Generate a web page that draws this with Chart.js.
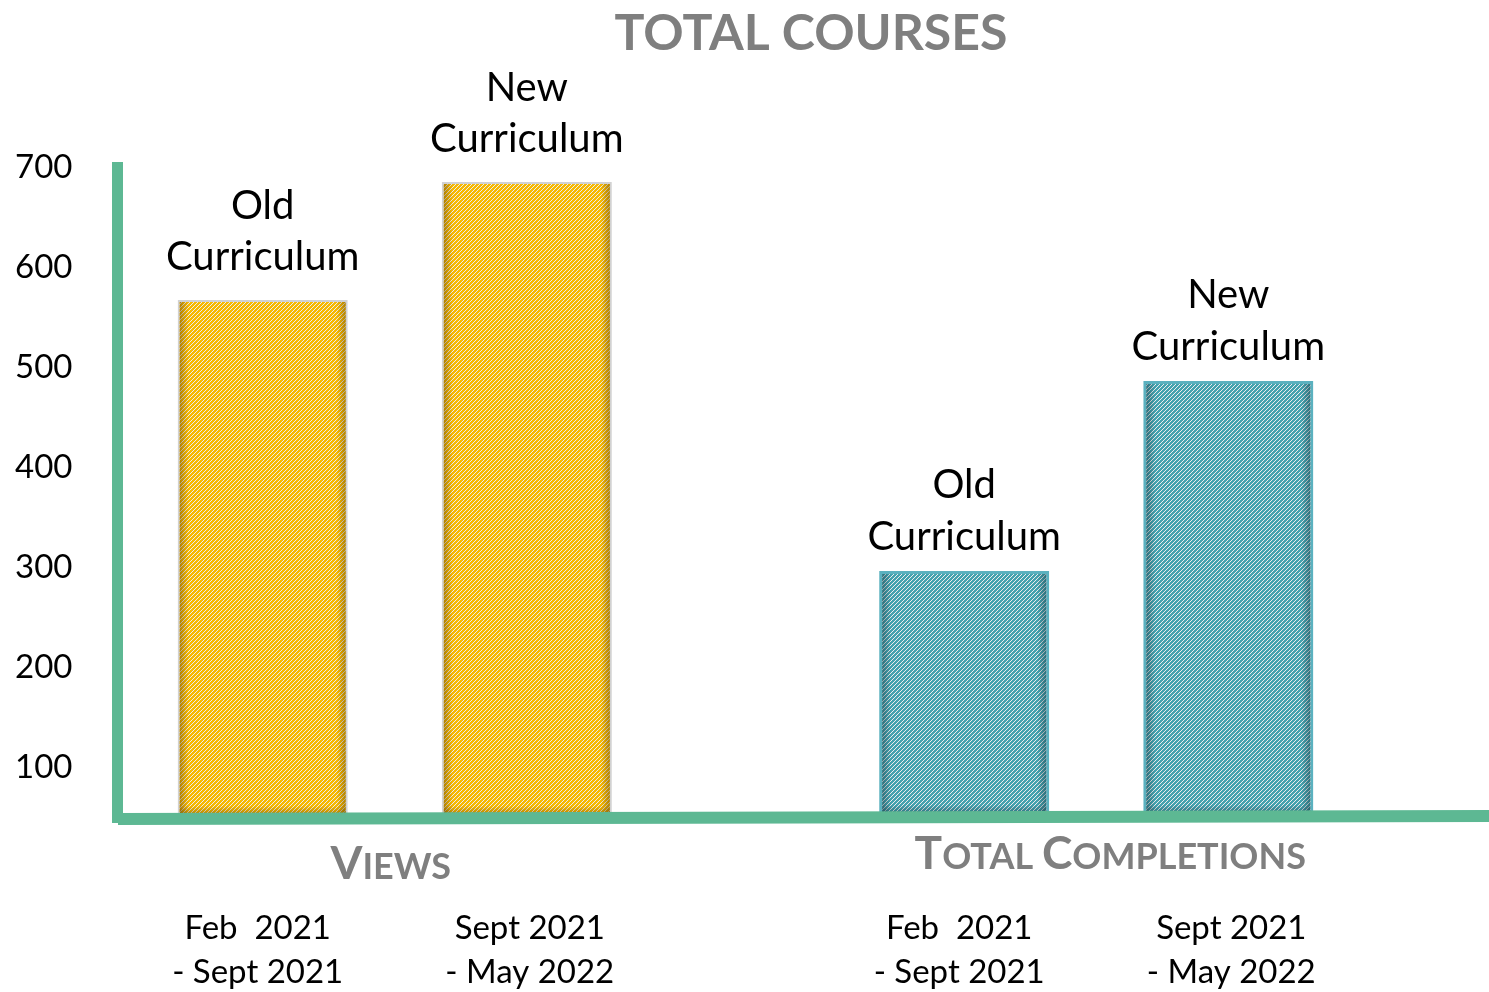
<!DOCTYPE html>
<html>
<head>
<meta charset="utf-8">
<script src="https://cdn.jsdelivr.net/npm/chart.js@4"></script>
<style>
  html, body { margin: 0; padding: 0; background: #fff; }
  #wrap { width: 1489px; height: 992px; }
</style>
</head>
<body>
<div id="wrap"><canvas id="chart"></canvas></div>
<script>
// data
const groups = ['Views', 'Total Completions'];
const curricula = [['Old', 'Curriculum'], ['New', 'Curriculum']];
const periods = [['Feb  2021', '- Sept 2021'], ['Sept 2021', '- May 2022']];
const oldValues = [567, 296];
const newValues = [685, 486];
const yTicks = [100, 200, 300, 400, 500, 600, 700];

const FONT = 'Lato';
const GRAY = '#7f7f7f';
const GREEN = '#5db893';

const ctx = document.getElementById('chart').getContext('2d');

// fine diagonal hatch like the office "dark upward diagonal" fill
function hatch(base, stripe) {
    const c = document.createElement('canvas');
    c.width = 4; c.height = 4;
    const g = c.getContext('2d');
    g.fillStyle = base;
    g.fillRect(0, 0, 4, 4);
    g.fillStyle = stripe;
    for (let i = 0; i < 4; i++) g.fillRect(i, 3 - i, 1, 1);
    return ctx.createPattern(c, 'repeat');
}
const fills = [hatch('#f7b900', '#ececec'), hatch('#44a2af', '#ececec')];
const borders = ['#d2d2d2', '#5bb1bf'];
const widths = [2, 3];
const shades = ['rgba(90,60,0,0.45)', 'rgba(20,50,60,0.45)'];
// label offsets above the bar top, per group
const labelLift = [[-94, -43], [-86, -34]];
const dateShift = [-5, 3];

function smallCaps(c, text, cx, y, big, small) {
    const segs = [];
    text.split(' ').forEach((w, wi) => {
        if (wi) segs.push([' ', small]);
        segs.push([w[0].toUpperCase(), big]);
        segs.push([w.slice(1).toUpperCase(), small]);
    });
    let total = 0;
    segs.forEach(s => {
        c.font = `bold ${s[1]}px ${FONT}`;
        s.push(c.measureText(s[0]).width);
        total += s[2];
    });
    let xx = cx - total / 2;
    c.textAlign = 'left';
    c.textBaseline = 'alphabetic';
    segs.forEach(s => {
        c.font = `bold ${s[1]}px ${FONT}`;
        c.fillText(s[0], xx, y);
        xx += s[2];
    });
}

// soft dark edges inside each bar
function innerShadow(c, bar, bw, bottom, col) {
    const l = bar.x - bar.width / 2 + bw, r = bar.x + bar.width / 2 - bw;
    const t = bar.y + bw, b = Math.min(bar.base, bottom) - bw;
    const s = 9;
    const clear = col.replace(/[\d.]+\)$/, '0)');
    let g = c.createLinearGradient(l, 0, l + s, 0);
    g.addColorStop(0, col); g.addColorStop(1, clear);
    c.fillStyle = g; c.fillRect(l, t, s, b - t);
    g = c.createLinearGradient(r, 0, r - s, 0);
    g.addColorStop(0, col); g.addColorStop(1, clear);
    c.fillStyle = g; c.fillRect(r - s, t, s, b - t);
    g = c.createLinearGradient(0, b, 0, b - s);
    g.addColorStop(0, col); g.addColorStop(1, clear);
    c.fillStyle = g; c.fillRect(l, b - s, r - l, s);
}

const decor = {
    id: 'decor',
    afterDatasetsDraw(chart) {
        const c = chart.ctx;
        const x = chart.scales.x;
        c.save();

        chart.data.datasets.forEach((ds, di) => {
            chart.getDatasetMeta(di).data.forEach((bar, i) =>
                innerShadow(c, bar, widths[i], chart.chartArea.bottom, shades[i]));
        });

        // axis lines
        c.fillStyle = GREEN;
        c.fillRect(112, 162, 11, 661);
        c.strokeStyle = GREEN;
        c.lineWidth = 12;
        c.beginPath();
        c.moveTo(118, 819);
        c.lineTo(1489, 816);
        c.stroke();

        // title
        c.fillStyle = GRAY;
        c.font = `bold 50px ${FONT}`;
        c.textAlign = 'center';
        c.textBaseline = 'alphabetic';
        c.fillText('TOTAL COURSES', 811, 50);

        // labels over and under each bar
        c.fillStyle = '#000';
        chart.data.datasets.forEach((ds, di) => {
            chart.getDatasetMeta(di).data.forEach((bar, i) => {
                c.textAlign = 'center';
                c.textBaseline = 'middle';
                c.font = `40px ${FONT}`;
                c.fillText(curricula[di][0], bar.x, bar.y + labelLift[i][0]);
                c.fillText(curricula[di][1], bar.x, bar.y + labelLift[i][1]);
                c.font = `33px ${FONT}`;
                c.fillText(periods[di][0], bar.x + dateShift[di], 928);
                c.fillText(periods[di][1], bar.x + dateShift[di], 972);
            });
        });

        // group names in small caps
        c.fillStyle = GRAY;
        groups.forEach((g, i) => {
            smallCaps(c, g, x.getPixelForValue(i) + (i ? 14 : -4), i ? 869 : 879, 46, 36);
        });
        c.restore();
    }
};

new Chart(ctx, {
    type: 'bar',
    data: {
        labels: groups,
        datasets: [{
            label: 'Old Curriculum',
            data: oldValues,
            backgroundColor: fills,
            borderColor: borders,
            borderWidth: widths,
            borderSkipped: false
        }, {
            label: 'New Curriculum',
            data: newValues,
            backgroundColor: fills,
            borderColor: borders,
            borderWidth: widths,
            borderSkipped: false
        }]
    },
    options: {
        responsive: true,
        maintainAspectRatio: false,
        animation: false,
        categoryPercentage: 0.753,
        barPercentage: 0.644,
        layout: {
            padding: { top: 167, bottom: 175, left: 0, right: 42 }
        },
        scales: {
            x: { display: false },
            y: {
                min: 50,
                max: 700,
                grid: { display: false },
                border: { display: false },
                afterBuildTicks: axis => {
                    axis.ticks = yTicks.map(v => ({ value: v }));
                },
                afterFit: axis => {
                    axis.width = 44;
                },
                ticks: {
                    mirror: true,
                    padding: -29,
                    color: '#000',
                    font: { family: FONT, size: 33 }
                }
            }
        },
        plugins: {
            legend: { display: false },
            tooltip: { enabled: false }
        }
    },
    plugins: [decor]
});
</script>
</body>
</html>
